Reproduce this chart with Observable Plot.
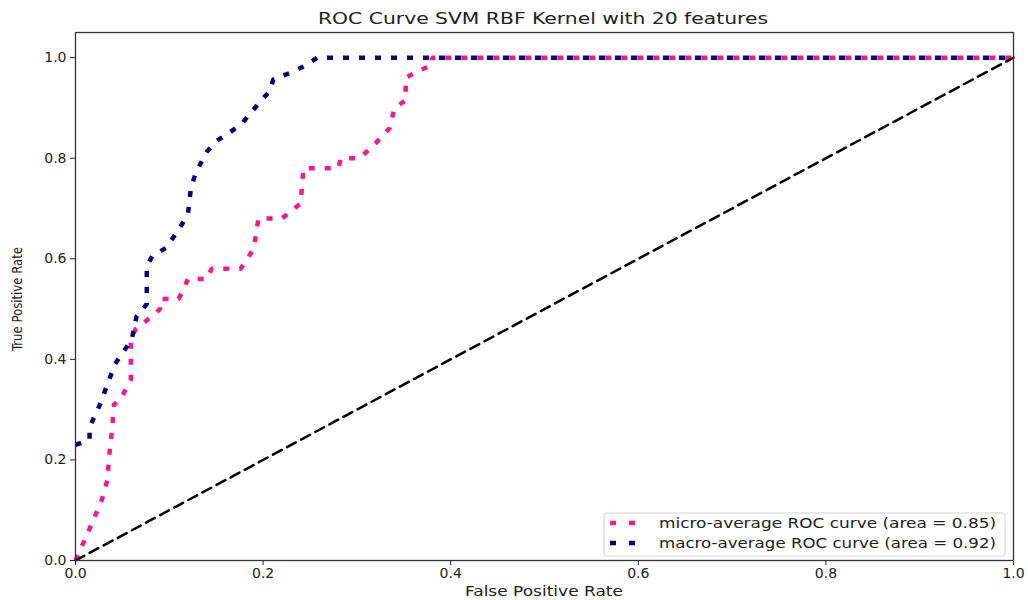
<!DOCTYPE html>
<html>
<head>
<meta charset="utf-8">
<script src="https://cdn.jsdelivr.net/npm/d3@7"></script>
<script src="https://cdn.jsdelivr.net/npm/@observablehq/plot@0.6"></script>
<style>
  html, body { margin: 0; padding: 0; background: white; }
  #chart { width: 1028px; height: 600px; }
</style>
</head>
<body>
<div id="chart"></div>
<script>
// ---- data ----
const titleText = "ROC Curve SVM RBF Kernel with 20 features";
const xLabelText = "False Positive Rate";
const yLabelText = "True Positive Rate";
const xTicks = [0.0, 0.2, 0.4, 0.6, 0.8, 1.0];
const yTicks = [0.0, 0.2, 0.4, 0.6, 0.8, 1.0];

const microLabel = "micro-average ROC curve (area = 0.85)";
const microFpr = [0, 0.012, 0.028, 0.034, 0.036, 0.039, 0.041, 0.048, 0.059, 0.059, 0.064, 0.081, 0.09, 0.091, 0.11, 0.12, 0.14, 0.145, 0.176, 0.19, 0.195, 0.22, 0.24, 0.243, 0.28, 0.283, 0.303, 0.32, 0.335, 0.34, 0.352, 0.352, 0.366, 0.38, 0.38, 1.0];
const microTpr = [0, 0.05, 0.12, 0.16, 0.21, 0.26, 0.31, 0.32, 0.36, 0.44, 0.46, 0.485, 0.50, 0.52, 0.52, 0.56, 0.56, 0.58, 0.58, 0.62, 0.68, 0.68, 0.71, 0.78, 0.78, 0.80, 0.80, 0.83, 0.86, 0.90, 0.915, 0.96, 0.974, 0.985, 1.0, 1.0];

const macroLabel = "macro-average ROC curve (area = 0.92)";
const macroFpr = [0, 0.015, 0.015, 0.026, 0.042, 0.06, 0.065, 0.076, 0.076, 0.082, 0.097, 0.113, 0.12, 0.123, 0.128, 0.14, 0.151, 0.165, 0.178, 0.197, 0.207, 0.211, 0.228, 0.244, 0.258, 1.0];
const macroTpr = [0.23, 0.24, 0.265, 0.31, 0.39, 0.44, 0.485, 0.51, 0.585, 0.606, 0.622, 0.667, 0.69, 0.74, 0.77, 0.813, 0.835, 0.852, 0.87, 0.913, 0.933, 0.957, 0.969, 0.983, 1.0, 1.0];

const diagX = [0, 1];
const diagY = [0, 1];

const microColor = "#ff1493";
const macroColor = "#000080";

// ---- build tables ----
const micro = microFpr.map((x, i) => ({x, y: microTpr[i]}));
const macro = macroFpr.map((x, i) => ({x, y: macroTpr[i]}));
const diag = diagX.map((x, i) => ({x, y: diagY[i]}));

const W = 1028, H = 600;
const dotDash = "6,10";

const chart = Plot.plot({
  width: W,
  height: H,
  marginLeft: 75,
  marginRight: 15,
  marginTop: 32,
  marginBottom: 40,
  style: {fontFamily: "DejaVu Sans, sans-serif", fontSize: "14px", color: "#222", background: "white", overflow: "visible"},
  x: {domain: [0, 1]},
  y: {domain: [0, 1.05]},
  marks: [
    Plot.axisX({ticks: xTicks, tickFormat: d3.format(".1f"), tickSize: 5, tickPadding: 3, label: null, stroke: "#222"}),
    Plot.axisY({ticks: yTicks, tickFormat: d3.format(".1f"), tickSize: 5, tickPadding: 4, label: null, stroke: "#222"}),
    Plot.line(micro, {x: "x", y: "y", stroke: microColor, strokeWidth: 4.5, strokeDasharray: dotDash, strokeLinecap: "butt", strokeLinejoin: "miter"}),
    Plot.line(macro, {x: "x", y: "y", stroke: macroColor, strokeWidth: 4.5, strokeDasharray: dotDash, strokeLinecap: "butt", strokeLinejoin: "miter"}),
    Plot.line(diag, {x: "x", y: "y", stroke: "black", strokeWidth: 2.5, strokeDasharray: "10,6"}),
    Plot.frame({stroke: "#333", strokeWidth: 1.3})
  ]
});

document.getElementById("chart").appendChild(chart);

// ---- annotations: title, axis labels, legend ----
const svg = d3.select(chart);
const font = "DejaVu Sans, sans-serif";

svg.append("text")
  .attr("x", 543).attr("y", 24)
  .attr("text-anchor", "middle")
  .attr("font-family", font).attr("font-size", 16).attr("fill", "#222")
  .attr("textLength", 450).attr("lengthAdjust", "spacingAndGlyphs")
  .text(titleText);

svg.append("text")
  .attr("x", 544).attr("y", 596)
  .attr("text-anchor", "middle")
  .attr("font-family", font).attr("font-size", 14).attr("fill", "#222")
  .attr("textLength", 158).attr("lengthAdjust", "spacingAndGlyphs")
  .text(xLabelText);

svg.append("text")
  .attr("transform", "translate(22,299) rotate(-90)")
  .attr("text-anchor", "middle")
  .attr("font-family", "DejaVu Sans Condensed, Liberation Sans Narrow, sans-serif").attr("font-size", 14).attr("fill", "#222")
  .attr("textLength", 104).attr("lengthAdjust", "spacingAndGlyphs")
  .text(yLabelText);

const lg = svg.append("g");
lg.append("rect")
  .attr("x", 604).attr("y", 513).attr("width", 401).attr("height", 43)
  .attr("rx", 3).attr("fill", "white").attr("fill-opacity", 0.85)
  .attr("stroke", "#d0d0d0").attr("stroke-width", 1);

const entries = [
  {label: microLabel, color: microColor, y: 523},
  {label: macroLabel, color: macroColor, y: 543}
];
entries.forEach(e => {
  lg.append("line")
    .attr("x1", 610).attr("x2", 635).attr("y1", e.y).attr("y2", e.y)
    .attr("stroke", e.color).attr("stroke-width", 4.5)
    .attr("stroke-dasharray", "6,13");
  lg.append("text")
    .attr("x", 659).attr("y", e.y).attr("dy", "0.35em")
    .attr("text-anchor", "start")
    .attr("font-family", font).attr("font-size", 14).attr("fill", "#222")
    .attr("textLength", 337).attr("lengthAdjust", "spacingAndGlyphs")
    .text(e.label);
});
</script>
</body>
</html>
